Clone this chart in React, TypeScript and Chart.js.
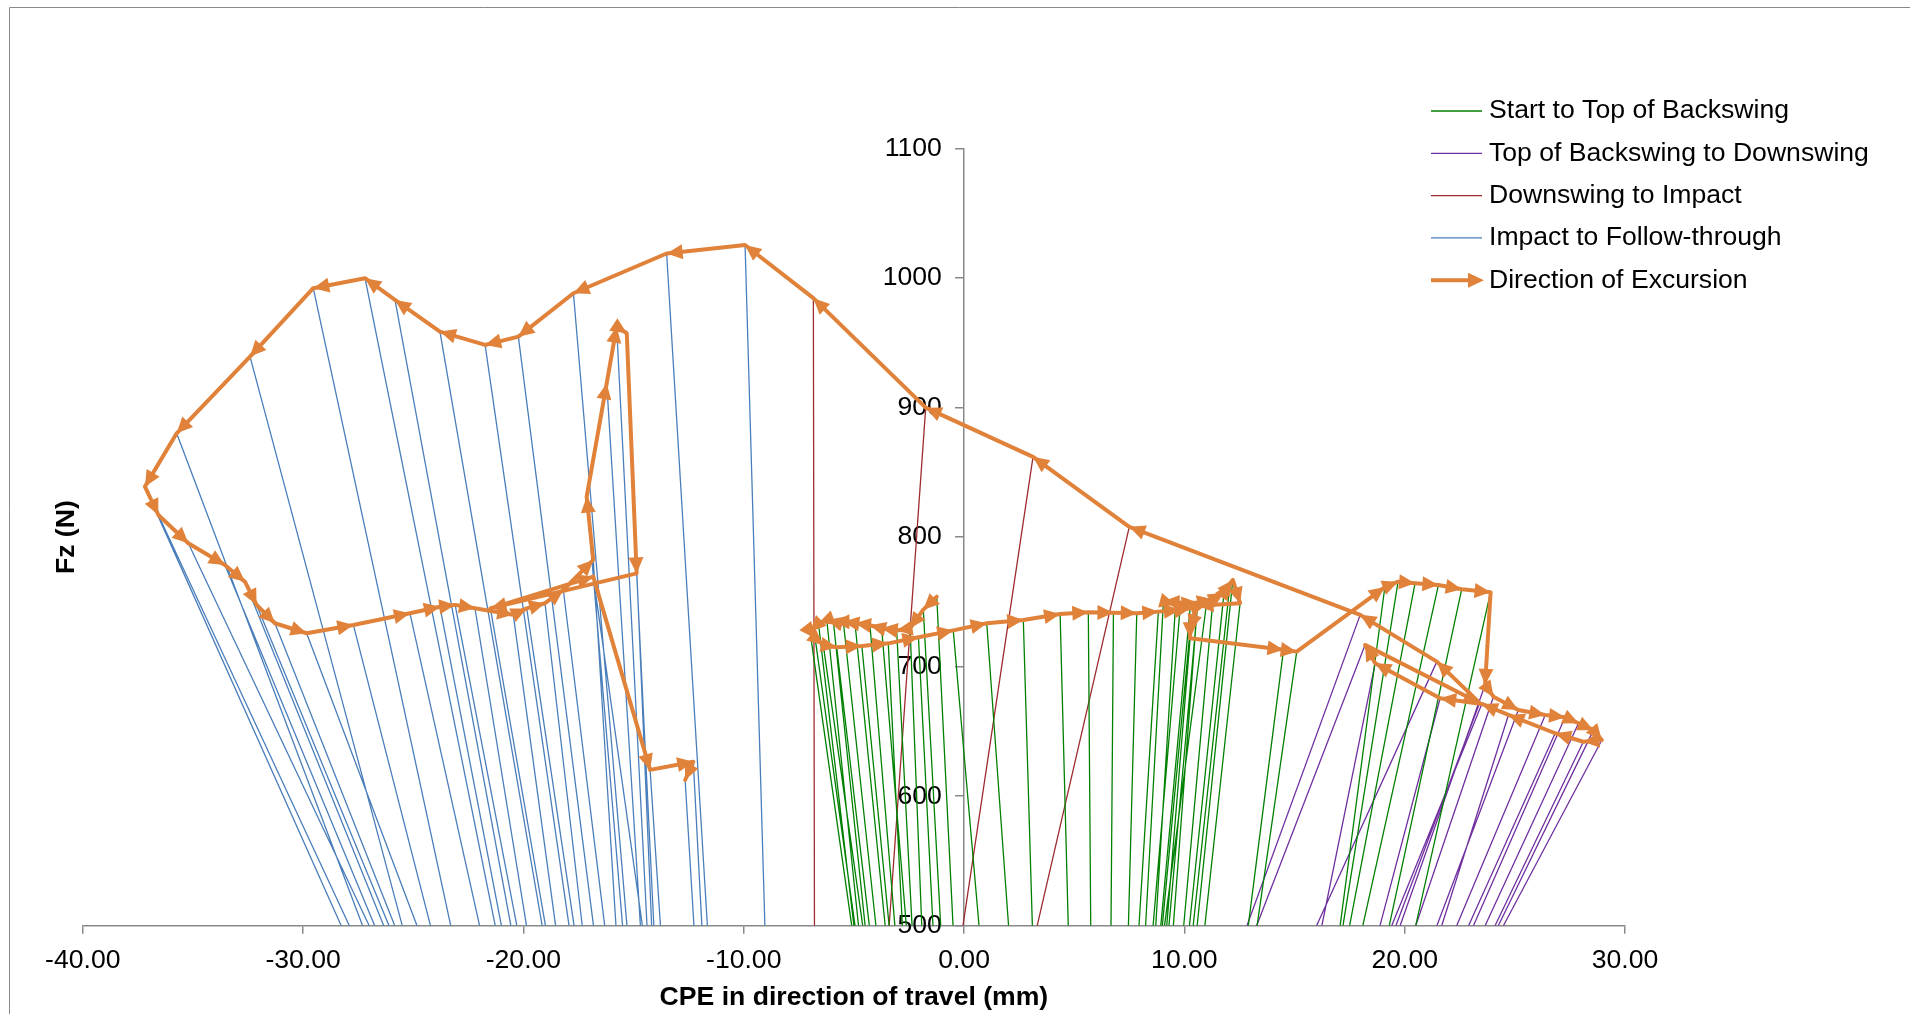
import React, { useEffect, useRef } from "react";
import { Chart, registerables } from "chart.js";

Chart.register(...registerables);

// ---------- data ----------
const xTickValues = [-40, -30, -20, -10, 0, 10, 20, 30];
const yTickValues = [500, 600, 700, 800, 900, 1000, 1100];
const baseFz = 500;

const phaseNames = [
  "Start to Top of Backswing",
  "Top of Backswing to Downswing",
  "Downswing to Impact",
  "Impact to Follow-through",
];
const excursionName = "Direction of Excursion";
const xTitle = "CPE in direction of travel (mm)";
const yTitle = "Fz (N)";

// Start to Top of Backswing
const startX = [-1.24, -1.85, -2.45, -3.06, -3.74, -4.27, -4.95, -5.48, -5.93, -6.23, -6.61, -6.99, -6.76, -6.39, -5.78, -4.64, -3.44, -2.07, -0.49, 1.03, 2.69, 4.36, 5.64, 6.78, 7.84, 8.82, 9.8, 10.26, 11.0, 9.05, 9.6, 10.6, 11.3, 11.8, 12.07, 12.2, 12.53, 10.6, 10.26, 10.26, 14.5, 15.1, 19.1, 19.7, 20.47, 21.53, 22.59, 23.9];
const startFz = [754, 744, 729.6, 728, 729.6, 732, 733.5, 734.7, 734.7, 736, 733.5, 727, 722, 716.8, 715, 716, 718, 722.7, 728, 733.5, 736, 740.7, 742, 741.7, 741.2, 742.5, 743.8, 745, 748, 750.5, 748, 749.5, 752, 757, 764, 767, 749, 747, 728, 722, 713, 711.6, 761.5, 765.6, 764.4, 763, 759.8, 757.5];
const startBaseX = [-0.5, -1.06, -1.92, -2.36, -2.62, -3.14, -3.58, -4.0, -4.49, -4.79, -5.0, -5.1, -4.95, -4.6, -4.3, -3.4, -2.8, -1.41, 0.68, 2.02, 3.1, 4.73, 5.75, 6.67, 7.46, 7.94, 8.58, 8.93, 9.1, 8.24, 8.7, 9.5, 9.97, 10.23, 10.4, 10.58, 10.93, 9.3, 9.0, 9.2, 12.9, 13.3, 17.07, 17.2, 17.5, 18.1, 19.3, 20.5];

// Top of Backswing to Downswing
const topX = [23.65, 24.03, 25.16, 26.38, 27.28, 27.89, 28.57, 28.95, 28.11, 26.83, 24.71, 23.5, 21.61, 18.66, 18.2, 23.4, 21.46, 17.98];
const topFz = [686, 676.8, 666.6, 662.7, 661, 656.3, 651, 643.4, 642, 648.6, 662.7, 671.2, 675.6, 702.6, 716.8, 672, 703.9, 740];
const topBaseX = [19.79, 20.5, 21.46, 22.36, 23.12, 23.65, 24.25, 24.48, 24.1, 22.9, 21.68, 19.41, 18.88, 16.24, 13.28, 19.6, 16.0, 12.84];

// Downswing to Impact
const downX = [7.5, 3.13, -1.74, -6.84];
const downFz = [808, 862, 900, 984.5];
const downBaseX = [3.32, -0.05, -3.4, -6.79];

// Impact to Follow-through
const impactX = [-9.94, -13.5, -17.73, -20.23, -21.74, -23.79, -25.83, -27.19, -29.54, -32.41, -35.74, -37.18, -36.57, -35.21, -33.55, -32.64, -32.11, -31.28, -29.84, -27.72, -25.15, -23.79, -23.1, -22.2, -20.46, -19.85, -19.02, -18.19, -16.83, -17.13, -16.22, -15.77, -15.31, -14.86, -21.5, -16.83, -14.25, -12.29, -12.66];
const impactFz = [1025.6, 1019, 988.3, 954.8, 948.4, 958.7, 983.2, 999.9, 992.2, 939.4, 880.2, 839, 817.1, 795.3, 778.5, 765.6, 747.6, 733.5, 725.8, 732.2, 741.2, 746.3, 747.7, 745.1, 740, 745, 749, 759.2, 782.4, 831.3, 918.8, 962.5, 957.4, 772, 745, 769.5, 620.3, 626.6, 612.5];
const impactBaseX = [-9.04, -11.65, -15.3, -16.82, -17.93, -19.15, -20.57, -21.28, -23.3, -25.5, -27.3, -28.27, -27.9, -27.0, -26.75, -26.34, -26.1, -25.84, -24.83, -24.22, -21.99, -21.0, -20.3, -19.86, -18.54, -17.7, -17.33, -16.31, -15.8, -15.5, -14.69, -14.39, -14.18, -14.08, -19.0, -14.6, -13.78, -11.9, -12.26];

// ---------- styles ----------
const FONT = "'Liberation Sans', Arial, sans-serif";
const FONT_SIZE = 26.6;
const phaseColors = ["#008000", "#7030A0", "#9E2B2F", "#4A7EBB"];
const ORANGE = "#E0823A";
const AXIS_GRAY = "#898989";
const ARROW_LEN = 16;
const ARROW_HALF = 7.5;

type Phase = { xs: number[]; fz: number[]; base: number[] };
const phases: Phase[] = [
  { xs: startX, fz: startFz, base: startBaseX },
  { xs: topX, fz: topFz, base: topBaseX },
  { xs: downX, fz: downFz, base: downBaseX },
  { xs: impactX, fz: impactFz, base: impactBaseX },
];

function vectorData(p: Phase) {
  const out: { x: number | null; y: number | null }[] = [];
  p.xs.forEach((x, i) => {
    out.push({ x, y: p.fz[i] });
    out.push({ x: p.base[i], y: baseFz });
    out.push({ x: null, y: null });
  });
  return out;
}

function drawArrow(ctx: CanvasRenderingContext2D, x: number, y: number, ux: number, uy: number, len: number, half: number) {
  const bx = x - ux * len;
  const by = y - uy * len;
  ctx.beginPath();
  ctx.moveTo(x, y);
  ctx.lineTo(bx - uy * half, by + ux * half);
  ctx.lineTo(bx + uy * half, by - ux * half);
  ctx.closePath();
  ctx.fill();
}

const framePlugin = {
  id: "frame",
  beforeDraw(chart: any) {
    const ctx = chart.ctx as CanvasRenderingContext2D;
    ctx.save();
    ctx.fillStyle = "#ffffff";
    ctx.fillRect(0, 0, chart.width, chart.height);
    ctx.strokeStyle = AXIS_GRAY;
    ctx.lineWidth = 1;
    ctx.beginPath();
    ctx.moveTo(9.5, chart.height);
    ctx.lineTo(9.5, 7.5);
    ctx.lineTo(chart.width, 7.5);
    ctx.stroke();
    ctx.restore();
  },
};

const arrowPlugin = {
  id: "arrows",
  afterDatasetsDraw(chart: any) {
    const meta = chart.getDatasetMeta(0);
    const pts = meta.data;
    const ctx = chart.ctx as CanvasRenderingContext2D;
    ctx.save();
    ctx.fillStyle = ORANGE;
    for (let j = 1; j < pts.length; j++) {
      const a = pts[j - 1];
      const b = pts[j];
      const dx = b.x - a.x;
      const dy = b.y - a.y;
      const len = Math.hypot(dx, dy);
      if (len < 0.5) continue;
      drawArrow(ctx, b.x, b.y, dx / len, dy / len, ARROW_LEN, ARROW_HALF);
    }
    ctx.restore();
  },
};

const legendPlugin = {
  id: "customLegend",
  afterDraw(chart: any) {
    const ctx = chart.ctx as CanvasRenderingContext2D;
    const names = [...phaseNames, excursionName];
    const colors = [...phaseColors, ORANGE];
    ctx.save();
    ctx.font = `${FONT_SIZE}px ${FONT}`;
    ctx.textBaseline = "middle";
    ctx.textAlign = "left";
    names.forEach((name, i) => {
      const y = 111 + i * 42.3;
      const isArrow = i === names.length - 1;
      ctx.strokeStyle = colors[i];
      ctx.lineWidth = isArrow ? 4 : 1.3;
      ctx.beginPath();
      ctx.moveTo(1431, y);
      ctx.lineTo(isArrow ? 1470 : 1482, y);
      ctx.stroke();
      if (isArrow) {
        ctx.fillStyle = ORANGE;
        drawArrow(ctx, 1484, y, 1, 0, ARROW_LEN, ARROW_HALF);
      }
      ctx.fillStyle = "#000000";
      ctx.fillText(name, 1489, y);
    });
    ctx.restore();
  },
};

export default function App() {
  const ref = useRef<HTMLCanvasElement>(null);

  useEffect(() => {
    document.body.style.margin = "0";
    const canvas = ref.current;
    if (!canvas) return;

    const pathPts = phases.flatMap((p) => p.xs.map((x, i) => ({ x, y: p.fz[i] })));

    const datasets: any[] = [
      {
        label: excursionName,
        data: pathPts,
        showLine: true,
        borderColor: ORANGE,
        backgroundColor: ORANGE,
        borderWidth: 4,
        pointRadius: 0,
        borderJoinStyle: "round",
        borderCapStyle: "round",
        order: 0,
      },
      ...phases.map((p, k) => ({
        label: phaseNames[k],
        data: vectorData(p),
        showLine: true,
        spanGaps: false,
        borderColor: phaseColors[k],
        backgroundColor: phaseColors[k],
        borderWidth: 1.3,
        pointRadius: 0,
        order: 1 + k,
      })),
    ];

    const tickFont = { size: FONT_SIZE, family: FONT };
    const titleFont = { size: FONT_SIZE, family: FONT, weight: "bold" as const };

    const chart = new Chart(canvas, {
      type: "scatter",
      data: { datasets },
      options: {
        animation: false,
        responsive: false,
        devicePixelRatio: 1,
        events: [],
        layout: { padding: { top: 148.6, right: 285, bottom: 0, left: 0 } },
        plugins: {
          legend: { display: false },
          tooltip: { enabled: false },
        },
        scales: {
          x: {
            type: "linear",
            position: "bottom",
            min: -40,
            max: 30,
            afterBuildTicks: (s: any) => {
              s.ticks = xTickValues.map((v) => ({ value: v }));
            },
            afterFit: (s: any) => {
              s.height = 88.3;
            },
            ticks: {
              autoSkip: false,
              maxRotation: 0,
              color: "#000",
              font: tickFont,
              padding: 11,
              callback: (v: any) => Number(v).toFixed(2),
            },
            grid: { drawOnChartArea: false, drawTicks: true, tickLength: 8, color: AXIS_GRAY, lineWidth: 1.5 },
            border: { display: true, color: AXIS_GRAY, width: 1.5 },
            title: { display: true, text: xTitle, color: "#000", font: titleFont, padding: { top: 0, bottom: 0 } },
          },
          y: {
            type: "linear",
            position: { x: 0 } as any,
            min: 500,
            max: 1100,
            afterBuildTicks: (s: any) => {
              s.ticks = yTickValues.map((v) => ({ value: v }));
            },
            ticks: {
              color: "#000",
              font: tickFont,
              padding: 14,
              callback: (v: any) => String(v) + "   ",
            },
            grid: { drawOnChartArea: false, drawTicks: true, tickLength: 8, color: AXIS_GRAY, lineWidth: 1.5 },
            border: { display: true, color: AXIS_GRAY, width: 1.5 },
          },
          yTitle: {
            type: "linear",
            position: "left",
            display: true,
            afterFit: (s: any) => {
              s.width = 82.8;
            },
            grid: { display: false },
            border: { display: false },
            ticks: { display: false },
            title: { display: true, text: yTitle, color: "#000", font: titleFont, padding: { top: 51, bottom: 0 } },
          },
        },
      } as any,
      plugins: [framePlugin, arrowPlugin, legendPlugin],
    });

    return () => chart.destroy();
  }, []);

  return <canvas ref={ref} width={1910} height={1014} style={{ display: "block" }} />;
}
